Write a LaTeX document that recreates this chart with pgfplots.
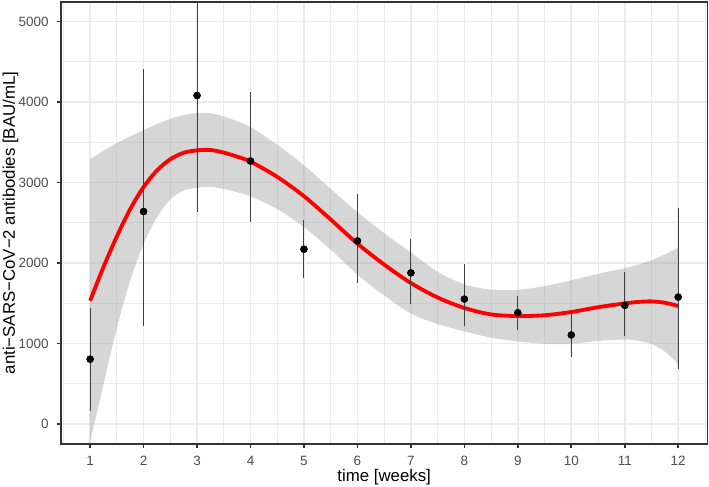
\documentclass[border=0pt]{standalone}
\usepackage{pgfplots}
\pgfplotsset{compat=1.18}
\usepackage{pgfplotstable}
\usepgfplotslibrary{fillbetween}
\usetikzlibrary{calc}
\usepackage{fontspec}
\setmainfont{Liberation Sans}
\definecolor{gridc}{HTML}{EBEBEB}
\definecolor{grey20}{HTML}{333333}
\definecolor{grey30}{HTML}{4D4D4D}

\pgfplotstableread{
x y lo hi
1 803 165 1435
2 2639 1216 4413
3 4082 2639 5500
4 3267 2510 4123
5 2171 1815 2531
6 2274 1746 2854
7 1877 1490 2292
8 1551 1218 1983
9 1381 1166 1588
10 1104 835 1393
11 1473 1092 1890
12 1576 684 2680
}\pts

\pgfplotstableread{
x fit up lo
1 1530 3290 -230
1.25 1950 3395 490
1.5 2330 3490 1190
1.75 2670 3575 1780
2 2944 3650 2239
2.25 3150 3728 2570
2.5 3290 3792 2790
2.75 3370 3840 2900
3 3400 3863 2935
3.25 3405 3862 2945
3.5 3372 3822 2920
3.75 3322 3762 2880
4 3260 3690 2830
4.5 3070 3470 2670
5 2830 3215 2445
5.5 2540 2920 2165
6 2240 2630 1855
6.5 1980 2370 1595
7 1750 2130 1370
7.5 1570 1890 1240
8 1440 1735 1150
8.5 1360 1668 1070
9 1340 1665 1025
9.5 1350 1712 995
10 1390 1785 995
10.5 1450 1865 1030
11 1497 1935 1048
11.25 1515 1978 1032
11.5 1522 2035 992
11.75 1505 2105 900
12 1465 2190 740
}\fit

\begin{document}
\begin{tikzpicture}
\begin{axis}[
  scale only axis, width=422.9pt, height=288.9pt,
  xmin=0.45, xmax=12.55, ymin=-250, ymax=5245,
  axis line style={grey20, line width=1.07pt},
  xtick={1,2,3,4,5,6,7,8,9,10,11,12},
  xticklabels={1,2,3,4,5,6,7,8,9,10,11,12},
  ytick={0,1000,2000,3000,4000,5000},
  yticklabels={0,1000,2000,3000,4000,5000},
  minor xtick={0.5,1.5,2.5,3.5,4.5,5.5,6.5,7.5,8.5,9.5,10.5,11.5,12.5},
  minor ytick={500,1500,2500,3500,4500},
  grid=both,
  major grid style={gridc, line width=1.07pt},
  minor grid style={gridc, line width=0.53pt},
  tick align=outside, tick pos=left,
  major tick length=2.75pt, minor tick length=0pt,
  tick style={grey20, line width=1.07pt},
  ticklabel style={font=\fontsize{8.8}{10.5}\selectfont, text=grey30},
  xticklabel style={inner sep=0pt, anchor=north, yshift=-4.95pt},
  yticklabel style={inner sep=0pt, anchor=east, xshift=-4.95pt},
  xlabel={time [weeks]},
  ylabel={anti−SARS−CoV−2 antibodies [BAU/mL]},
  label style={font=\fontsize{11}{13}\selectfont, text=black},
  xlabel style={at={(axis description cs:0.5,-0.0745)}, anchor=center},
  ylabel style={at={(axis description cs:-0.0776,0.5)}, anchor=center},
  clip=true,
]
\addplot[name path=up, draw=none, smooth] table[x=x, y=up] {\fit};
\addplot[name path=lo, draw=none, smooth] table[x=x, y=lo] {\fit};
\addplot[fill=black!40, fill opacity=0.4, draw=none] fill between[of=up and lo];
\addplot[red, line width=2.5pt, smooth] table[x=x, y=fit] {\fit};
\addplot[only marks, mark=none, draw=black!75, line width=0.65pt,
  error bars/.cd, y dir=both, y explicit, error mark=none,
  error bar style={black!75, line width=0.65pt}]
  table[x=x, y=y, y error plus expr=\thisrow{hi}-\thisrow{y}, y error minus expr=\thisrow{y}-\thisrow{lo}] {\pts};
\addplot[only marks, mark=*, mark size=2.25pt, black] table[x=x, y=y] {\pts};
\end{axis}
\pgfresetboundingbox
\path[use as bounding box] ($(current axis.south west)+(-39.7pt,-28.1pt)$) rectangle ($(current axis.north east)+(0.9pt,1.3pt)$);
\end{tikzpicture}
\end{document}
